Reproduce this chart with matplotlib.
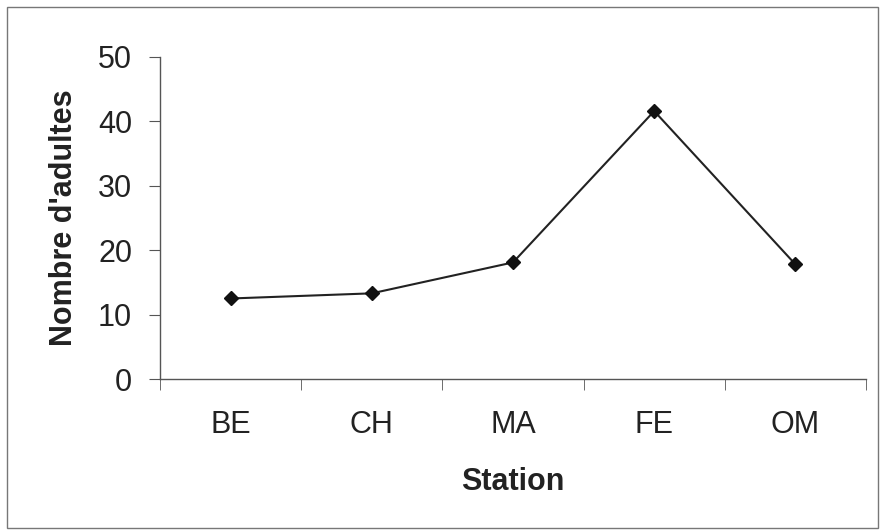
import matplotlib
matplotlib.use("Agg")
import matplotlib.pyplot as plt
from matplotlib.patches import Rectangle

plt.rcParams["font.family"] = ["Liberation Sans", "DejaVu Sans"]

stations = ["BE", "CH", "MA", "FE", "OM"]
adultes = [12.5, 13.3, 18.1, 41.6, 17.8]
y_ticks = [0, 10, 20, 30, 40, 50]

fig = plt.figure(figsize=(8.81, 5.30), dpi=100)
ax = fig.add_axes([0.1816, 0.2849, 0.8014, 0.6076])

x = list(range(len(stations)))
ax.plot(x, adultes, color="#222222", linewidth=1.5, marker="D",
        markersize=7.5, markerfacecolor="#111111", markeredgecolor="#111111")

ax.set_xlim(-0.5, len(stations) - 0.5)
ax.set_ylim(0, 50)
ax.set_yticks(y_ticks)
ax.set_xticks(x)
ax.set_xticklabels(stations)
# category boundaries get the tick marks, like Excel
ax.set_xticks([i - 0.5 for i in range(len(stations) + 1)], minor=True)
ax.tick_params(axis="x", which="major", length=0, pad=22, labelsize=22, colors="#222222")
ax.tick_params(axis="x", which="minor", length=8, direction="out", color="#555555")
ax.tick_params(axis="y", length=8, direction="out", pad=12, labelsize=22,
               color="#555555", labelcolor="#222222")

for side in ["top", "right"]:
    ax.spines[side].set_visible(False)
for side in ["left", "bottom"]:
    ax.spines[side].set_color("#555555")
    ax.spines[side].set_linewidth(1.0)

ax.set_ylabel("Nombre d'adultes", fontsize=22, fontweight="bold", color="#222222", labelpad=14)
ax.set_xlabel("Station", fontsize=22, fontweight="bold", color="#222222", labelpad=20)

# frame around the whole chart
fig.patches.append(Rectangle((0.008, 0.004), 0.989, 0.983, transform=fig.transFigure,
                             fill=False, edgecolor="#777777", linewidth=1.0))

fig.savefig("out.png", dpi=100)
